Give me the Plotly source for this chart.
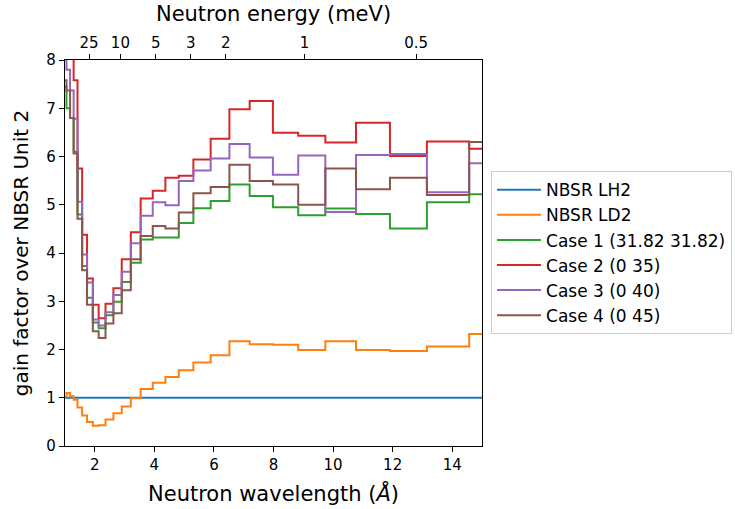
import math
import plotly.graph_objects as go

# Wavelength bin edges (Angstrom) shared by every histogram
bin_edges = [0.9, 1.05, 1.17, 1.29, 1.42, 1.575, 1.74, 1.935, 2.13, 2.36, 2.625,
             2.905, 3.21, 3.54, 3.946, 4.37, 4.82, 5.31, 5.89, 6.52, 7.2, 7.98,
             8.83, 9.74, 10.77, 11.91, 13.15, 14.57, 16.1]

# Gain factor per bin relative to NBSR Unit 2
nbsr_lh2 = [1.0] * 28
nbsr_ld2 = [1.02, 1.10, 1.03, 0.96, 0.80, 0.63, 0.50, 0.42, 0.43, 0.55, 0.68,
            0.82, 0.99, 1.18, 1.31, 1.43, 1.57, 1.73, 1.88, 2.17, 2.11, 2.10,
            1.99, 2.17, 1.99, 1.97, 2.06, 2.32]
case1 = [7.45, 7.00, 6.80, 6.10, 4.80, 3.73, 3.07, 2.56, 2.44, 2.71, 2.99,
         3.40, 3.80, 4.28, 4.32, 4.32, 4.62, 4.93, 5.08, 5.42, 5.18, 4.95,
         4.78, 4.92, 4.81, 4.51, 5.05, 5.22]
case2 = [8.60, 8.50, 8.30, 7.58, 5.75, 4.38, 3.47, 2.93, 2.65, 2.95, 3.27,
         3.87, 4.43, 5.13, 5.29, 5.56, 5.60, 5.94, 6.37, 6.98, 7.15, 6.49,
         6.43, 6.29, 6.70, 6.01, 6.31, 6.16]
case3 = [8.50, 7.80, 7.37, 6.78, 5.06, 3.97, 3.39, 2.62, 2.50, 2.77, 3.13,
         3.61, 4.20, 4.77, 5.05, 4.99, 5.49, 5.71, 5.96, 6.26, 5.98, 5.62,
         6.02, 4.85, 6.03, 6.05, 5.26, 5.86]
case4 = [7.58, 7.37, 6.80, 6.06, 4.71, 3.64, 2.93, 2.38, 2.24, 2.54, 2.75,
         3.23, 3.87, 4.35, 4.56, 4.51, 4.84, 5.24, 5.37, 5.83, 5.49, 5.42,
         5.00, 5.75, 5.32, 5.56, 5.20, 6.30]

series_names = ["NBSR LH2", "NBSR LD2", "Case 1 (31.82 31.82)",
                "Case 2 (0 35)", "Case 3 (0 40)", "Case 4 (0 45)"]
series_values = [nbsr_lh2, nbsr_ld2, case1, case2, case3, case4]
series_colors = ["#1f77b4", "#ff7f0e", "#2ca02c", "#d62728", "#9467bd", "#8c564b"]

# Secondary axis: neutron energy in meV, E = 81.81 / lambda^2
energy_ticks = [25, 10, 5, 3, 2, 1, 0.5]
energy_labels = ["25", "10", "5", "3", "2", "1", "0.5"]
energy_positions = [math.sqrt(81.81 / e) for e in energy_ticks]

FONT = "DejaVu Sans"
TITLE_SIZE = 21

fig = go.Figure()
for name, vals, color in zip(series_names, series_values, series_colors):
    fig.add_trace(go.Scatter(
        x=bin_edges, y=vals + [vals[-1]], mode="lines", line_shape="hv",
        line=dict(color=color, width=2), name=name, hoverinfo="skip"))

# Invisible carrier trace so the energy axis is laid out on top
fig.add_trace(go.Scatter(x=[1, 15], y=[0, 0], xaxis="x2", mode="lines",
                         line=dict(width=0), showlegend=False, hoverinfo="skip"))

axis_common = dict(showgrid=False, zeroline=False, showline=True, linecolor="black",
                   linewidth=1.3, ticks="outside", ticklen=5, tickwidth=1.2,
                   tickcolor="black", tickfont=dict(family=FONT, size=15, color="black"))

fig.update_layout(
    width=735, height=509,
    margin=dict(l=65, r=253, t=60, b=63, autoexpand=False),
    paper_bgcolor="white", plot_bgcolor="white",
    font=dict(family=FONT, color="black"),
    xaxis=dict(range=[1, 15], tickvals=[2, 4, 6, 8, 10, 12, 14], mirror=True,
               title=dict(text="Neutron wavelength (<i>Å</i>)",
                          font=dict(family=FONT, size=TITLE_SIZE), standoff=13),
               **axis_common),
    xaxis2=dict(range=[1, 15], overlaying="x", side="top", anchor="y",
                tickvals=energy_positions, ticktext=energy_labels,
                title=dict(text="Neutron energy (meV)",
                           font=dict(family=FONT, size=TITLE_SIZE), standoff=6),
                **axis_common),
    yaxis=dict(range=[0, 8], dtick=1, mirror=True,
               title=dict(text="gain factor over NBSR Unit 2",
                          font=dict(family=FONT, size=20), standoff=12),
               **axis_common),
    legend=dict(x=1.0216, y=0.712, xanchor="left", yanchor="top",
                bordercolor="#cccccc", borderwidth=1, bgcolor="white",
                itemwidth=44, tracegroupgap=0,
                font=dict(family=FONT, size=17, color="black")),
    showlegend=True,
)

fig.write_html("out.html")
